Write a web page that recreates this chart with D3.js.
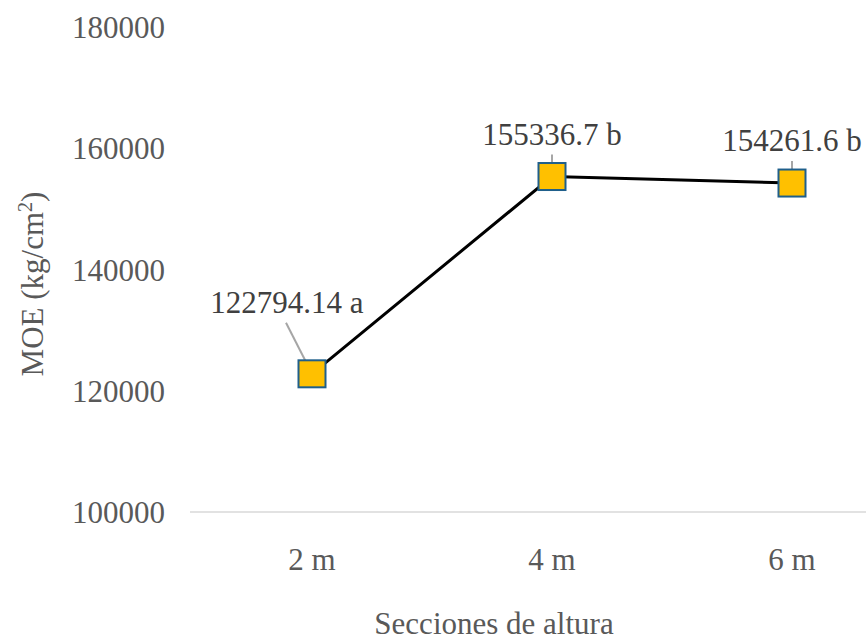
<!DOCTYPE html>
<html>
<head>
<meta charset="utf-8">
<script src="https://cdn.jsdelivr.net/npm/d3@7/dist/d3.min.js"></script>
<style>
  html, body { margin: 0; padding: 0; background: #fff; }
</style>
</head>
<body>
<svg id="chart" width="866" height="640" font-family="'Liberation Serif', 'DejaVu Serif', serif"></svg>
<script>
// Sections and mean modulus of elasticity
const categories = ["2 m", "4 m", "6 m"];
const moeValues = [122794.14, 155336.7, 154261.6];
const labelTexts = ["122794.14 a", "155336.7 b", "154261.6 b"];
const yTicks = [100000, 120000, 140000, 160000, 180000];

const svg = d3.select("#chart");
const plot = { left: 192, right: 912, top: 27, bottom: 512 };
const FONT = "'Liberation Serif', 'DejaVu Serif', serif";
const FS = 31;

const x = d3.scaleBand().domain(categories).range([plot.left, plot.right]);
const y = d3.scaleLinear().domain([100000, 180000]).range([plot.bottom, plot.top]);
const cx = d => x(d) + x.bandwidth() / 2;

// Baseline at the lower bound
svg.append("line")
  .attr("x1", plot.left - 2).attr("x2", 866)
  .attr("y1", y(100000)).attr("y2", y(100000))
  .attr("stroke", "#d9d9d9").attr("stroke-width", 1.3);

// Y axis tick labels
svg.append("g").selectAll("text").data(yTicks).join("text")
  .attr("x", 165).attr("y", d => y(d) + 11)
  .attr("text-anchor", "end")
  .attr("font-family", FONT).attr("fill", "#595959")
  .attr("font-size", FS).text(d => d);

// X axis tick labels
svg.append("g").selectAll("text").data(categories).join("text")
  .attr("x", d => cx(d)).attr("y", 570)
  .attr("text-anchor", "middle")
  .attr("font-family", FONT).attr("fill", "#595959")
  .attr("font-size", FS).text(d => d);

// Axis titles
svg.append("text")
  .attr("x", 494).attr("y", 634).attr("text-anchor", "middle")
  .attr("font-family", FONT).attr("fill", "#595959")
  .attr("font-size", FS).text("Secciones de altura");

const yTitle = svg.append("text")
  .attr("transform", "translate(43,284) rotate(-90)")
  .attr("text-anchor", "middle").attr("font-size", FS)
  .attr("font-family", FONT).attr("fill", "#595959");
yTitle.append("tspan").text("MOE (kg/cm");
yTitle.append("tspan").attr("dy", -11).attr("font-size", 20).text("2");
yTitle.append("tspan").attr("dy", 11).text(")");

const data = categories.map((c, i) => ({ c, v: moeValues[i], label: labelTexts[i] }));

// Connecting line
svg.append("path").datum(data)
  .attr("fill", "none").attr("stroke", "#000").attr("stroke-width", 3)
  .attr("d", d3.line().x(d => cx(d.c)).y(d => y(d.v)));

// Data label placement relative to each point (baseline offsets)
const labelOffsets = [
  { dx: -25, dy: -61, lx: -26, ly: -51 },
  { dx: 0, dy: -32, lx: 0, ly: -22 },
  { dx: 0, dy: -32, lx: 0, ly: -22 }
];

// Leader lines
svg.append("g").selectAll("line").data(data).join("line")
  .attr("x1", (d, i) => cx(d.c) + labelOffsets[i].lx)
  .attr("y1", (d, i) => y(d.v) + labelOffsets[i].ly)
  .attr("x2", d => cx(d.c)).attr("y2", d => y(d.v))
  .attr("stroke", "#a6a6a6").attr("stroke-width", 2);

// Markers
const m = 27;
svg.append("g").selectAll("rect").data(data).join("rect")
  .attr("x", d => cx(d.c) - m / 2).attr("y", d => y(d.v) - m / 2)
  .attr("width", m).attr("height", m)
  .attr("fill", "#ffc000").attr("stroke", "#1f5f8b").attr("stroke-width", 2);

// Data labels
svg.append("g").selectAll("text").data(data).join("text")
  .attr("x", (d, i) => cx(d.c) + labelOffsets[i].dx)
  .attr("y", (d, i) => y(d.v) + labelOffsets[i].dy)
  .attr("text-anchor", "middle")
  .attr("font-family", FONT)
  .attr("font-size", FS).attr("fill", "#404040")
  .text(d => d.label);
</script>
</body>
</html>
